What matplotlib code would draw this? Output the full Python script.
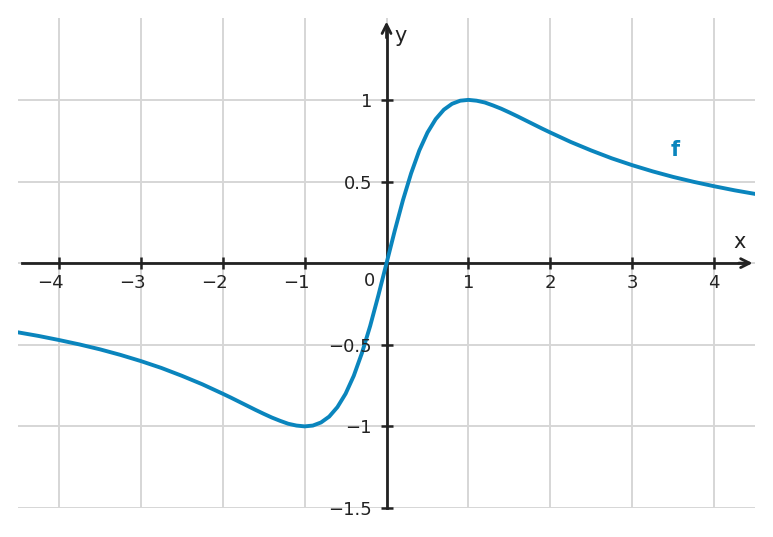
import matplotlib.pyplot as plt
import matplotlib.transforms as mtransforms

# Werte der Kurve f (rechte Hälfte, f ist ungerade)
x_rechts = [0.0, 0.1, 0.2, 0.3, 0.4, 0.5, 0.6, 0.7, 0.8, 0.9, 1.0, 1.1, 1.2, 1.3,
            1.4, 1.5, 1.6, 1.7, 1.8, 1.9, 2.0, 2.25, 2.5, 2.75, 3.0, 3.25, 3.5,
            3.75, 4.0, 4.25, 4.5]
y_rechts = [0.000, 0.198, 0.385, 0.550, 0.690, 0.800, 0.882, 0.940, 0.976, 0.995,
            1.000, 0.995, 0.984, 0.966, 0.946, 0.923, 0.899, 0.874, 0.849, 0.824,
            0.800, 0.742, 0.690, 0.642, 0.600, 0.562, 0.528, 0.498, 0.471, 0.446,
            0.424]
x_vals = [-v for v in x_rechts[:0:-1]] + x_rechts
y_vals = [-v for v in y_rechts[:0:-1]] + y_rechts

x_ticks = [-4, -3, -2, -1, 1, 2, 3, 4]
x_grid = [-4, -3, -2, -1, 0, 1, 2, 3, 4]
y_ticks = [-1.5, -1, -0.5, 0.5, 1]
y_tick_labels = ['\u22121.5', '\u22121', '\u22120.5', '0.5', '1']
y_grid = [-1.5, -1, -0.5, 0, 0.5, 1]

blau = '#0a85bd'
dunkel = '#222222'
grau = '#d6d6d6'

fig = plt.figure(figsize=(7.73, 5.37), dpi=100)
ax = fig.add_axes([0.0233, 0.054, 0.9535, 0.912])
ax.set_xlim(-4.5, 4.5)
ax.set_ylim(-1.5, 1.5)

# Gitter
for gx in x_grid:
    ax.axvline(gx, color=grau, lw=1.4, zorder=0)
for gy in y_grid:
    ax.axhline(gy, color=grau, lw=1.4, zorder=0)

# Achsen
for s in ['top', 'right']:
    ax.spines[s].set_visible(False)
ax.spines['left'].set_position(('data', 0))
ax.spines['bottom'].set_position(('data', 0))
ax.spines['left'].set_bounds(-1.5, 1.42)
ax.spines['bottom'].set_bounds(-4.45, 4.4)
for s in ['left', 'bottom']:
    ax.spines[s].set_color(dunkel)
    ax.spines[s].set_linewidth(2)
    ax.spines[s].set_zorder(3)

pfeil = dict(arrowstyle='->', color=dunkel, lw=2, mutation_scale=16,
             shrinkA=0, shrinkB=0)
ax.annotate('', xy=(4.47, 0), xytext=(4.3, 0), arrowprops=pfeil, zorder=4)
ax.annotate('', xy=(0, 1.48), xytext=(0, 1.38), arrowprops=pfeil, zorder=4)

ax.set_xticks(x_ticks)
ax.set_yticks(y_ticks)
ax.set_xticklabels(['\u2212' + str(-t) if t < 0 else str(t) for t in x_ticks])
ax.set_yticklabels(y_tick_labels)
ax.tick_params(direction='inout', length=9, width=1.8, color=dunkel,
               labelsize=13, labelcolor=dunkel, pad=3)
ax.tick_params(axis='y', pad=6)
verschiebung = mtransforms.ScaledTranslation(0.05, 0, fig.dpi_scale_trans)
for lab, t in zip(ax.get_xticklabels(), x_ticks):
    if t < 0:
        lab.set_horizontalalignment('right')
        lab.set_transform(lab.get_transform() + verschiebung)
# Beschriftungen liegen über der Kurve
ax.xaxis.set_zorder(6)
ax.yaxis.set_zorder(6)

# Kurve
ax.plot(x_vals, y_vals, color=blau, lw=2.8, zorder=5, solid_joinstyle='round')

ax.text(-0.21, -0.11, '0', fontsize=13, color=dunkel, ha='center', va='center',
        zorder=6)
ax.text(4.31, 0.13, 'x', fontsize=15, color=dunkel, ha='center', va='center')
ax.text(0.17, 1.39, 'y', fontsize=15, color=dunkel, ha='center', va='center')
ax.text(3.53, 0.69, 'f', fontsize=15, color=blau, fontweight='bold',
        ha='center', va='center')

fig.savefig('out.png', dpi=100)
